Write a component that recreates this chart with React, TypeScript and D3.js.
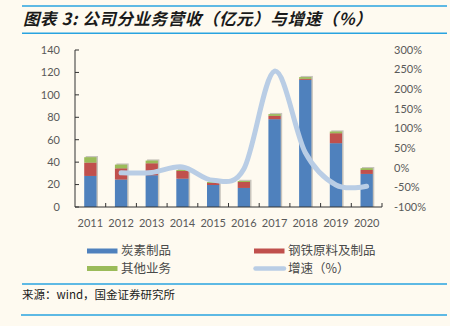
import React from "react";
import * as d3 from "d3";

const years = ["2011","2012","2013","2014","2015","2016","2017","2018","2019","2020"];
const carbon = [27.7, 24.5, 28.3, 25.3, 19.6, 17.0, 78.3, 113.4, 56.9, 29.5];
const steel = [11.9, 10.0, 10.7, 6.8, 1.8, 5.3, 3.0, 0.9, 8.9, 3.5];
const other = [4.8, 3.3, 2.4, 0.9, 0.9, 0.9, 1.5, 1.5, 1.5, 1.6];
const growthYears = ["2012","2013","2014","2015","2016","2017","2018","2019","2020"];
const growth = [-13, -12, 2, -32, -3, 246, 39, -44, -47];
const leftTicks = [0, 20, 40, 60, 80, 100, 120, 140];
const rightTicks = [-100, -50, 0, 50, 100, 150, 200, 250, 300];
const seriesNames = ["炭素制品", "钢铁原料及制品", "其他业务", "增速（%）"];
const colors = ["#4F81BD", "#C0504D", "#9BBB59", "#B9CDE5"];

const W = 450, H = 326;
const X0 = 75, X1 = 382, Y0 = 50, Y1 = 207;
const NUM_FONT = "Lato, 'Noto Sans', sans-serif";
const CJK_FONT = "'Noto Sans CJK SC', sans-serif";

export default function App() {
  const x = d3.scaleBand<string>().domain(years).range([X0, X1]).paddingInner(0.6).paddingOuter(0.3);
  const bandStep = (X1 - X0) / years.length;
  const yL = d3.scaleLinear().domain([0, 140]).range([Y1, Y0]);
  const yR = d3.scaleLinear().domain([-100, 300]).range([Y1, Y0]);

  const stacks = [carbon, steel, other];
  const rects: JSX.Element[] = [];
  years.forEach((yr, i) => {
    let base = 0;
    const total = carbon[i] + steel[i] + other[i];
    const bx = x(yr)!;
    const bw = x.bandwidth();
    rects.push(
      <rect key={"sh" + i} x={bx + 1.5} y={yL(total) - 1.2} width={bw} height={Y1 - yL(total) + 1.2} fill="#C8C4BC" />
    );
    stacks.forEach((s, k) => {
      const y0 = yL(base);
      const y1 = yL(base + s[i]);
      rects.push(<rect key={k + "-" + i} x={bx} y={y1} width={bw} height={y0 - y1} fill={colors[k]} />);
      base += s[i];
    });
  });

  const line = d3
    .line<number>()
    .x((_, i) => x(growthYears[i])! + x.bandwidth() / 2)
    .y((d) => yR(d))
    .curve(d3.curveCardinal.tension(0));

  const legendItems = [
    { x: 87, y: 251, name: seriesNames[0], c: colors[0], line: false },
    { x: 254, y: 251, name: seriesNames[1], c: colors[1], line: false },
    { x: 87, y: 268.5, name: seriesNames[2], c: colors[2], line: false },
    { x: 254, y: 268.5, name: seriesNames[3], c: colors[3], line: true },
  ];

  return (
    <div style={{ position: "fixed", left: 0, top: 0, width: W, height: H, background: "#FEFAF0" }}>
      <svg width={W} height={H} style={{ display: "block" }}>
        <rect x={0} y={0} width={W} height={H} fill="#FEFAF0" />
        <line x1={22} x2={447} y1={6} y2={6} stroke="#29A3E0" strokeWidth={1.5} />
        <line x1={22} x2={447} y1={33.3} y2={33.3} stroke="#29A3E0" strokeWidth={1.5} />
        <text x={23} y={24.5} fontFamily={CJK_FONT} fontSize={16.5} fontWeight="bold" fontStyle="italic" letterSpacing={0.6} fill="#1a1a1a">
          图表 3: 公司分业务营收（亿元）与增速（%）
        </text>

        {rects}

        <line x1={X0} x2={X0} y1={Y0} y2={Y1} stroke="#333" strokeWidth={1} />
        <line x1={X0} x2={X1} y1={Y1} y2={Y1} stroke="#333" strokeWidth={1} />
        {leftTicks.map((t) => (
          <g key={"lt" + t}>
            <line x1={X0} x2={X0 + 4} y1={yL(t)} y2={yL(t)} stroke="#333" />
            <text x={60} y={yL(t)} dy="0.35em" textAnchor="end" fontFamily={NUM_FONT} fontSize={11} fill="#595959">
              {t}
            </text>
          </g>
        ))}
        {years.map((yr, i) => (
          <line key={"xt" + i} x1={X0 + (i + 1) * bandStep} x2={X0 + (i + 1) * bandStep} y1={Y1} y2={Y1 - 4} stroke="#333" />
        ))}
        {years.map((yr) => (
          <text key={"xl" + yr} x={x(yr)! + x.bandwidth() / 2} y={223.5} dy="0.35em" textAnchor="middle" fontFamily={NUM_FONT} fontSize={11} fill="#595959">
            {yr}
          </text>
        ))}
        {rightTicks.map((t) => (
          <text key={"rt" + t} x={394} y={yR(t)} dy="0.35em" textAnchor="start" fontFamily={NUM_FONT} fontSize={11} fill="#595959">
            {t + "%"}
          </text>
        ))}

        <path d={line(growth) || ""} fill="none" stroke={colors[3]} strokeWidth={5} strokeLinecap="round" strokeLinejoin="round" />

        {legendItems.map((it) => (
          <g key={it.name}>
            {it.line ? (
              <line x1={it.x + 1.5} x2={it.x + 30} y1={it.y} y2={it.y} stroke={it.c} strokeWidth={4.5} strokeLinecap="round" />
            ) : (
              <rect x={it.x} y={it.y - 2.5} width={30.5} height={5} fill={it.c} />
            )}
            <text x={it.x + 34} y={it.y} dy="0.35em" fontFamily={CJK_FONT} fontSize={12.5} fill="#4a4a4a">
              {it.name}
            </text>
          </g>
        ))}

        <line x1={22} x2={447} y1={284} y2={284} stroke="#29A3E0" strokeWidth={1.5} />
        <text x={22} y={294.5} dy="0.35em" fontFamily={CJK_FONT} fontSize={11.5} fill="#1a1a1a">
          来源：wind，国金证券研究所
        </text>
        <line x1={21} x2={447} y1={315} y2={315} stroke="#29A3E0" strokeWidth={1.5} />
      </svg>
    </div>
  );
}
